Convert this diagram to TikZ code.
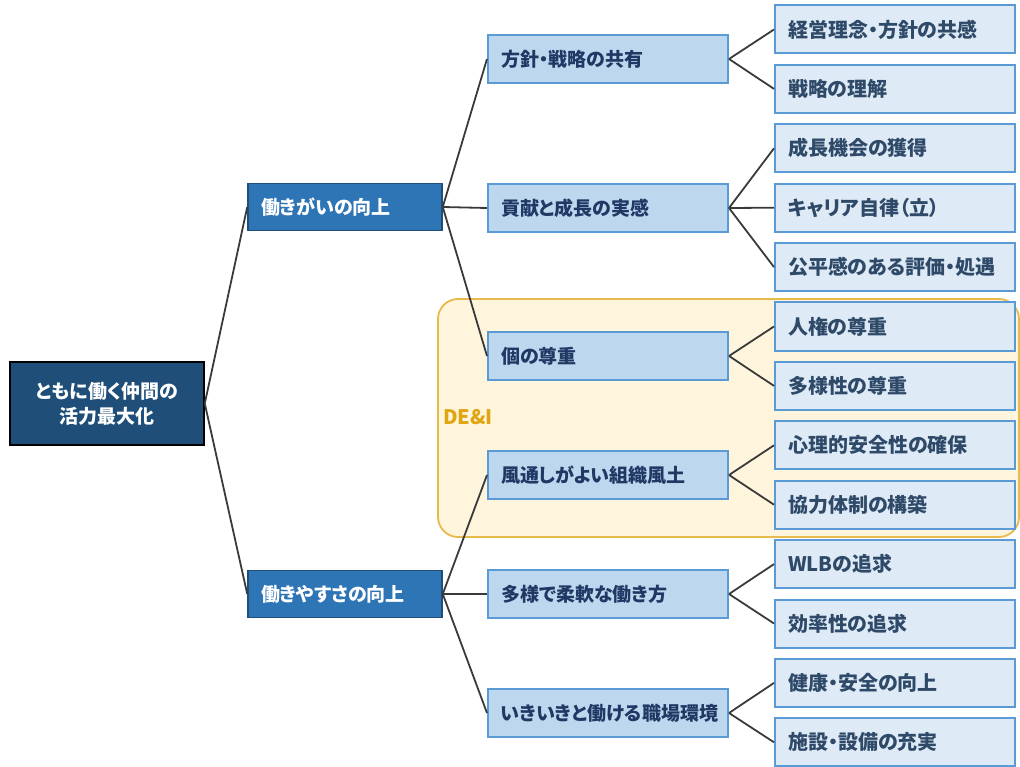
\documentclass[tikz,border=0pt]{standalone}
\usepackage{fontspec}
\setmainfont{Noto Sans CJK JP}[RawFeature=+palt]
\definecolor{rootfill}{HTML}{1F4E79}
\definecolor{lonefill}{HTML}{2E75B6}
\definecolor{lonedraw}{HTML}{1F4E79}
\definecolor{ltwofill}{HTML}{BDD7EE}
\definecolor{boxdraw}{HTML}{5B9BD5}
\definecolor{leaffill}{HTML}{DEEBF7}
\definecolor{ltwotext}{HTML}{1F3864}
\definecolor{leaftext}{HTML}{2F4A68}
\definecolor{deifill}{HTML}{FFF5DC}
\definecolor{deidraw}{HTML}{E8BA4C}
\definecolor{deitext}{HTML}{E0A612}
\definecolor{linecol}{HTML}{3A3A3A}
\tikzset{
  rootbox/.style={draw=black, line width=1.5pt, fill=rootfill, text=white,
    minimum width=194pt, minimum height=83pt, align=center, inner sep=0pt,
    font=\fontsize{19}{25}\selectfont\bfseries},
  lonebox/.style={draw=lonedraw, line width=1.5pt, fill=lonefill, text=white,
    minimum height=47pt, text width=168pt, inner xsep=13pt, inner ysep=0pt, align=left,
    font=\fontsize{19}{23}\selectfont\bfseries},
  ltwobox/.style={draw=boxdraw, line width=2pt, fill=ltwofill, text=ltwotext,
    minimum height=48pt, text width=214pt, inner xsep=13pt, inner ysep=0pt, align=left,
    font=\fontsize{19}{23}\selectfont\bfseries},
  leafbox/.style={draw=boxdraw, line width=2pt, fill=leaffill, text=leaftext,
    minimum height=48pt, text width=214pt, inner xsep=13pt, inner ysep=0pt, align=left,
    font=\fontsize{20}{24}\selectfont\bfseries},
  conn/.style={draw=linecol, line width=1.8pt}
}
\begin{document}
\begin{tikzpicture}[x=1pt,y=-1pt]
\useasboundingbox (0,0) rectangle (1020,767);
% DE&I background
\draw[draw=deidraw, fill=deifill, line width=1.8pt, rounded corners=20pt] (438,299) rectangle (1019,537);
\node[anchor=west, text=deitext, font=\fontsize{20}{24}\selectfont\bfseries, inner sep=0pt] (dei) at (443,417) {DE\&I};
% root
\node[rootbox] (root) at (107,403.5) {ともに働く仲間の\\活力最大化};
% level 1
\node[lonebox] (a) at (345,207) {働きがいの向上};
\node[lonebox] (b) at (345,594) {働きやすさの向上};
% level 2
\node[ltwobox] (a1) at (608,59) {方針・戦略の共有};
\node[ltwobox] (a2) at (608,208) {貢献と成長の実感};
\node[ltwobox] (a3) at (608,356) {個の尊重};
\node[ltwobox] (b1) at (608,475) {風通しがよい組織風土};
\node[ltwobox] (b2) at (608,594) {多様で柔軟な働き方};
\node[ltwobox] (b3) at (608,713) {いきいきと働ける職場環境};
% leaves
\node[leafbox] (l1) at (895,29.5) {経営理念・方針の共感};
\node[leafbox] (l2) at (895,88.9) {戦略の理解};
\node[leafbox] (l3) at (895,148.3) {成長機会の獲得};
\node[leafbox] (l4) at (895,207.7) {キャリア自律（立）};
\node[leafbox] (l5) at (895,267.1) {公平感のある評価・処遇};
\node[leafbox] (l6) at (895,326.5) {人権の尊重};
\node[leafbox] (l7) at (895,385.9) {多様性の尊重};
\node[leafbox] (l8) at (895,445.3) {心理的安全性の確保};
\node[leafbox] (l9) at (895,504.7) {協力体制の構築};
\node[leafbox] (l10) at (895,564.1) {WLBの追求};
\node[leafbox] (l11) at (895,623.5) {効率性の追求};
\node[leafbox] (l12) at (895,682.9) {健康・安全の向上};
\node[leafbox] (l13) at (895,742.3) {施設・設備の充実};
% connectors
\draw[conn] (root.east) -- (a.west);
\draw[conn] (root.east) -- (b.west);
\draw[conn] (a.east) -- (a1.west);
\draw[conn] (a.east) -- (a2.west);
\draw[conn] (a.east) -- (a3.west);
\draw[conn] (b.east) -- (b1.west);
\draw[conn] (b.east) -- (b2.west);
\draw[conn] (b.east) -- (b3.west);
\draw[conn] (a1.east) -- (l1.west);
\draw[conn] (a1.east) -- (l2.west);
\draw[conn] (a2.east) -- (l3.west);
\draw[conn] (a2.east) -- (l4.west);
\draw[conn] (a2.east) -- (l5.west);
\draw[conn] (a3.east) -- (l6.west);
\draw[conn] (a3.east) -- (l7.west);
\draw[conn] (b1.east) -- (l8.west);
\draw[conn] (b1.east) -- (l9.west);
\draw[conn] (b2.east) -- (l10.west);
\draw[conn] (b2.east) -- (l11.west);
\draw[conn] (b3.east) -- (l12.west);
\draw[conn] (b3.east) -- (l13.west);
\end{tikzpicture}
\end{document}
